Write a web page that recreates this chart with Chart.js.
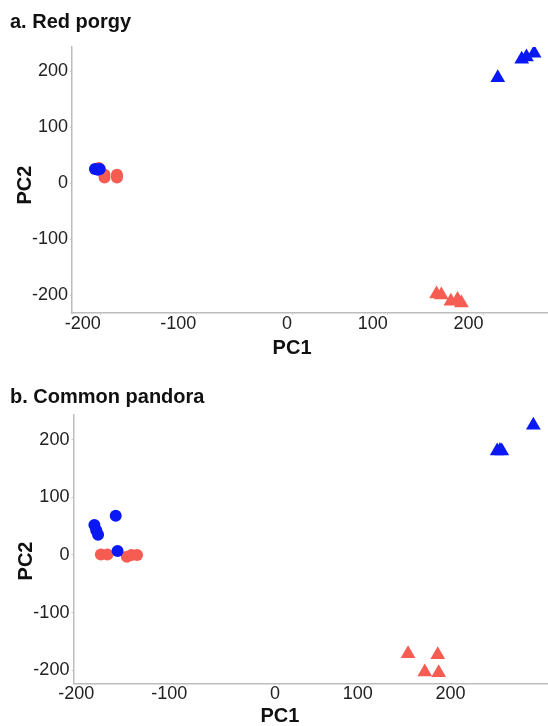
<!DOCTYPE html>
<html>
<head>
<meta charset="utf-8">
<script src="https://cdn.jsdelivr.net/npm/chart.js@4.4.1/dist/chart.umd.min.js"></script>
<style>
  html, body { margin: 0; padding: 0; background: #fff; overflow: hidden; }
  canvas { position: absolute; left: 0; display: block; }
  #chartPorgy { top: 0; }
  #chartPandora { top: 365px; }
</style>
</head>
<body>
<canvas id="chartPorgy" width="548" height="365"></canvas>
<canvas id="chartPandora" width="548" height="361"></canvas>
<script>
var FONT = '"Liberation Sans", Arial, Helvetica, sans-serif';
var BLUE = '#0a18f5';
var RED = '#f65c52';

// tick labels shared by both panels
var tickValues = [-200, -100, 0, 100, 200];

// a. Red porgy
var porgyBlueCircles = [
  { x: -206, y: 25 },
  { x: -203, y: 24 },
  { x: -201, y: 25 },
];
var porgyRedCircles = [
  { x: -202, y: 27 },
  { x: -196, y: 15 },
  { x: -196, y: 10 },
  { x: -183, y: 15 },
  { x: -183, y: 10 },
];
var porgyBlueTriangles = [
  { x: 215, y: 188 },
  { x: 240, y: 221 },
  { x: 245, y: 225 },
  { x: 253, y: 232 },
];
var porgyRedTriangles = [
  { x: 151, y: -198 },
  { x: 156, y: -200 },
  { x: 166, y: -211 },
  { x: 173, y: -208 },
  { x: 177, y: -214 },
];

// b. Common pandora
var pandoraBlueCircles = [
  { x: -200, y: 52 },
  { x: -198, y: 43 },
  { x: -196, y: 35 },
  { x: -177, y: 68 },
  { x: -175, y: 7 },
];
var pandoraRedCircles = [
  { x: -193, y: 1 },
  { x: -186, y: 1 },
  { x: -165, y: -3 },
  { x: -160, y: 0 },
  { x: -154, y: 0 },
];
var pandoraBlueTriangles = [
  { x: 234, y: 180 },
  { x: 237, y: 181 },
  { x: 239, y: 180 },
  { x: 273, y: 225 },
];
var pandoraRedTriangles = [
  { x: 138, y: -171 },
  { x: 170, y: -173 },
  { x: 156, y: -203 },
  { x: 171, y: -204 },
];

// draws PC1 / PC2 (PC1 sits under the 0 tick like in the original figure)
var axisLabelPlugin = {
  id: 'axisLabels',
  afterDraw: function (chart, args, opts) {
    var ctx = chart.ctx;
    var xs = chart.scales.x;
    var ys = chart.scales.y;
    ctx.save();
    ctx.fillStyle = '#111';
    ctx.font = 'bold 20px ' + FONT;
    ctx.textAlign = 'center';
    ctx.textBaseline = 'middle';
    ctx.fillText(opts.xText, xs.getPixelForValue(0), chart.chartArea.bottom + opts.xGap);
    ctx.translate(opts.yX, ys.getPixelForValue(0) + opts.yShift);
    ctx.rotate(-Math.PI / 2);
    ctx.fillText(opts.yText, 0, 0);
    ctx.restore();
  },
};

function series(data, color, style) {
  return {
    data: data,
    backgroundColor: color,
    borderWidth: 0,
    pointStyle: style,
    pointRadius: style === 'triangle' ? 8.5 : 6,
  };
}

function makePanel(id, p) {
  return new Chart(document.getElementById(id), {
    type: 'scatter',
    data: {
      datasets: [
        series(p.blueCircles, BLUE, 'circle'),
        series(p.blueTriangles, BLUE, 'triangle'),
        series(p.redCircles, RED, 'circle'),
        series(p.redTriangles, RED, 'triangle'),
      ],
    },
    options: {
      responsive: false,
      animation: false,
      events: [],
      // autoPadding off: otherwise point radius eats a few px on the right
      layout: { autoPadding: false, padding: { left: 10, top: 0, right: 0, bottom: 0 } },
      plugins: {
        legend: { display: false },
        tooltip: { enabled: false },
        title: {
          display: true,
          text: p.title,
          align: 'start',
          color: '#111',
          font: { family: FONT, size: 20, weight: 'bold', lineHeight: 1.2 },
          padding: { top: p.titleTop, bottom: p.titleBottom },
        },
        axisLabels: { xText: 'PC1', yText: 'PC2', xGap: p.xGap, yX: p.yX, yShift: p.yShift },
      },
      scales: {
        x: {
          type: 'linear',
          min: p.xMin,
          max: p.xMax,
          afterBuildTicks: function (s) {
            s.ticks = tickValues.map(function (v) { return { value: v }; });
          },
          afterFit: function (s) { s.height = p.xHeight; },
          border: { color: '#bdbdbd', width: 1.5 },
          grid: { drawOnChartArea: false, color: '#cfcfcf', tickLength: 2 },
          ticks: {
            align: 'end',
            padding: 0,
            color: '#222',
            font: { family: FONT, size: 18, lineHeight: 1 },
          },
        },
        y: {
          type: 'linear',
          min: p.yMin,
          max: p.yMax,
          afterBuildTicks: function (s) {
            s.ticks = tickValues.map(function (v) { return { value: v }; });
          },
          afterFit: function (s) { s.width = p.yWidth; },
          border: { color: '#bdbdbd', width: 1.5 },
          grid: { drawOnChartArea: false, color: '#cfcfcf', tickLength: 2 },
          ticks: {
            padding: 2,
            color: '#222',
            font: { family: FONT, size: 18, lineHeight: 1 },
          },
        },
      },
    },
    plugins: [axisLabelPlugin],
  });
}

makePanel('chartPorgy', {
  title: 'a. Red porgy',
  blueCircles: porgyBlueCircles,
  redCircles: porgyRedCircles,
  blueTriangles: porgyBlueTriangles,
  redTriangles: porgyRedTriangles,
  titleTop: 10, titleBottom: 13,
  xMin: -230, xMax: 267.5, yMin: -232, yMax: 243,
  xHeight: 52, yWidth: 62,
  xGap: 35, yX: 25, yShift: 2,
});

makePanel('chartPandora', {
  title: 'b. Common pandora',
  blueCircles: pandoraBlueCircles,
  redCircles: pandoraRedCircles,
  blueTriangles: pandoraBlueTriangles,
  redTriangles: pandoraRedTriangles,
  titleTop: 20, titleBottom: 6,
  xMin: -222.6, xMax: 288.8, yMin: -222.4, yMax: 242.6,
  xHeight: 42.7, yWidth: 63.4,
  xGap: 32.7, yX: 26, yShift: 6,
});
</script>
</body>
</html>
